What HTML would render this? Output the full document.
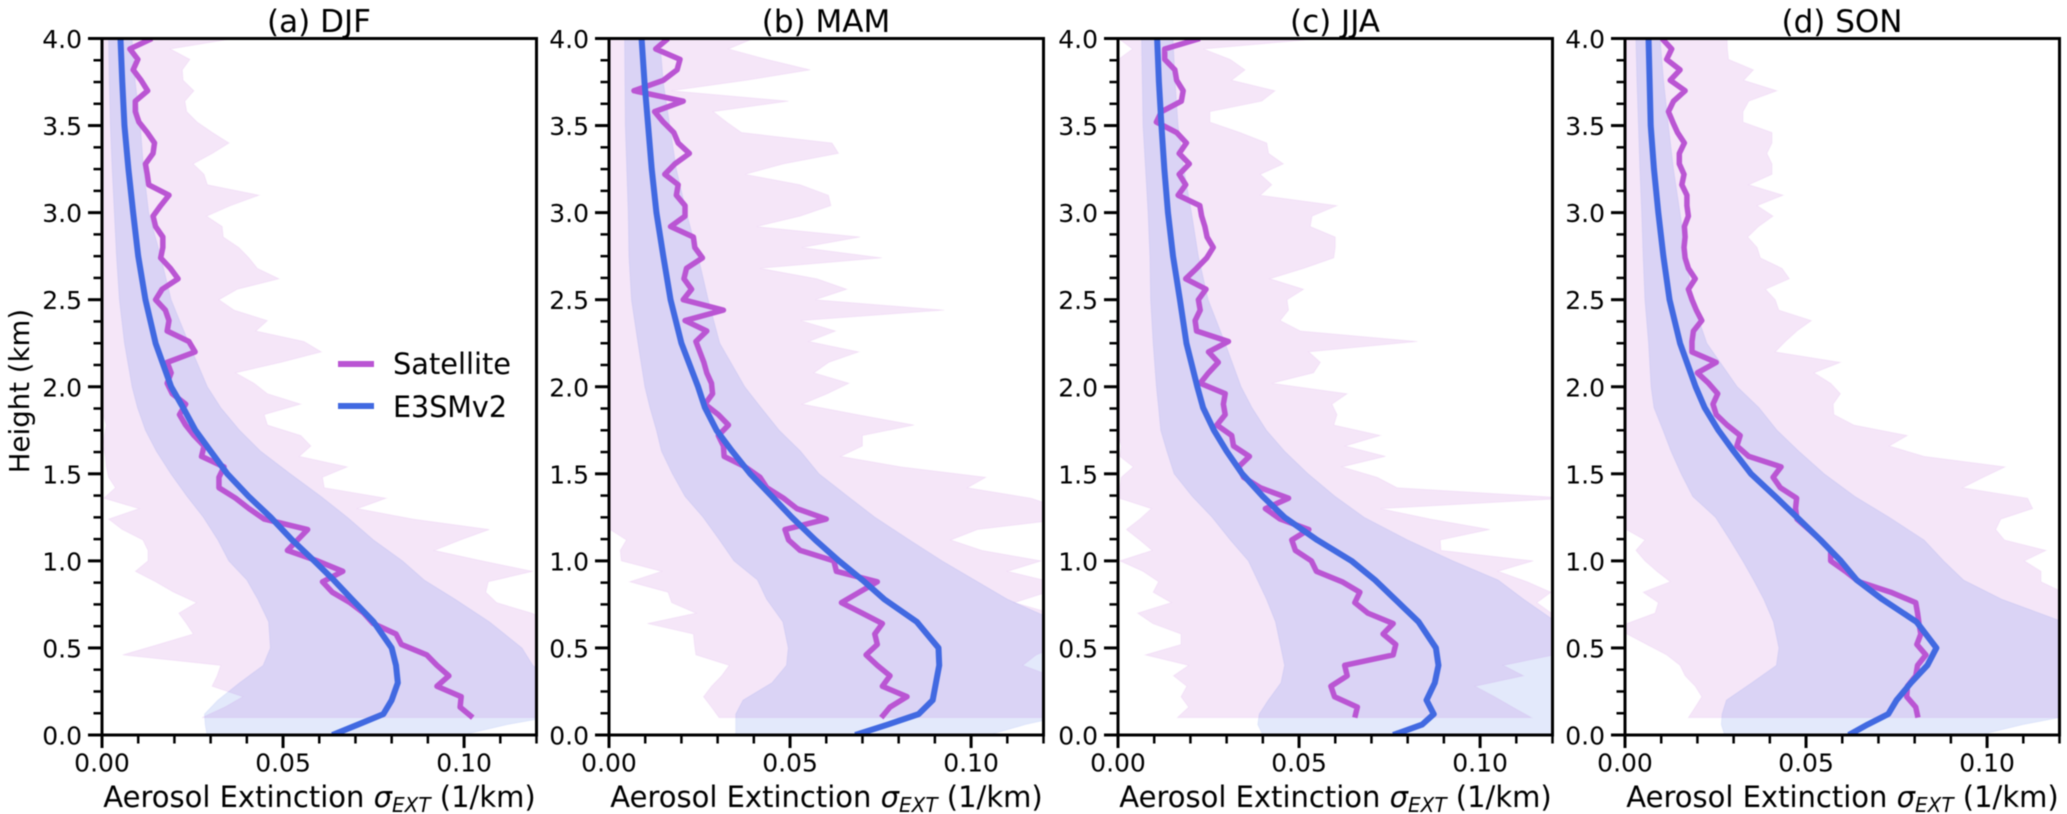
<!DOCTYPE html>
<html lang="en">
<head>
<meta charset="utf-8">
<title>Aerosol Extinction Profiles</title>
<style>
html,body{margin:0;padding:0;background:#fff;}
svg{display:block;filter:blur(0.5px);}
text{font-family:"DejaVu Sans","Liberation Sans",sans-serif;fill:#000;}
</style>
</head>
<body>
<svg id="figure" xmlns="http://www.w3.org/2000/svg" width="2067" height="814" viewBox="0 0 2067 814">
  <rect x="0" y="0" width="2067" height="814" fill="#fff"/>

  <g id="panel-a" transform="translate(102,38.5)"></g>
  <g id="panel-b" transform="translate(609,38.5)"></g>
  <g id="panel-c" transform="translate(1118,38.5)"></g>
  <g id="panel-d" transform="translate(1625,38.5)"></g>

  <text x="319" y="32" font-size="31" text-anchor="middle">(a) DJF</text>
  <text x="826" y="32" font-size="31" text-anchor="middle">(b) MAM</text>
  <text x="1335" y="32" font-size="31" text-anchor="middle">(c) JJA</text>
  <text x="1842" y="32" font-size="31" text-anchor="middle">(d) SON</text>

  <text transform="translate(29,391) rotate(-90)" font-size="27.6" text-anchor="middle">Height (km)</text>

  <text x="319.5" y="807" font-size="29" text-anchor="middle">Aerosol Extinction <tspan font-style="italic">σ</tspan><tspan font-style="italic" font-size="20" dy="5">EXT</tspan><tspan dy="-5"> (1/km)</tspan></text>
  <text x="826.5" y="807" font-size="29" text-anchor="middle">Aerosol Extinction <tspan font-style="italic">σ</tspan><tspan font-style="italic" font-size="20" dy="5">EXT</tspan><tspan dy="-5"> (1/km)</tspan></text>
  <text x="1335.5" y="807" font-size="29" text-anchor="middle">Aerosol Extinction <tspan font-style="italic">σ</tspan><tspan font-style="italic" font-size="20" dy="5">EXT</tspan><tspan dy="-5"> (1/km)</tspan></text>
  <text x="1842.5" y="807" font-size="29" text-anchor="middle">Aerosol Extinction <tspan font-style="italic">σ</tspan><tspan font-style="italic" font-size="20" dy="5">EXT</tspan><tspan dy="-5"> (1/km)</tspan></text>

  <g>
    <line x1="338" y1="364" x2="374" y2="364" stroke="#BA55D3" stroke-width="6"/>
    <text x="393" y="374" font-size="29" textLength="118" lengthAdjust="spacingAndGlyphs">Satellite</text>
    <line x1="338" y1="406" x2="374" y2="406" stroke="#4169E1" stroke-width="6"/>
    <text x="393" y="417" font-size="29" textLength="114" lengthAdjust="spacingAndGlyphs">E3SMv2</text>
  </g>
</svg>

<script>
// Extinction values are in units of 10^-3 km^-1; heights are in km.

const satHeights = [
4.00,3.94,3.88,3.82,3.76,3.70,3.64,3.58,3.52,3.46,
3.40,3.34,3.28,3.22,3.16,3.10,3.04,2.98,2.92,2.86,
2.80,2.74,2.68,2.62,2.56,2.50,2.44,2.38,2.32,2.26,
2.20,2.14,2.08,2.02,1.96,1.90,1.84,1.78,1.72,1.66,
1.60,1.54,1.48,1.42,1.36,1.30,1.24,1.18,1.12,1.06,
1.00,0.94,0.88,0.82,0.76,0.70,0.64,0.58,0.52,0.46,
0.40,0.34,0.28,0.22,0.16,0.10];

const modelHeights = [4,3.75,3.5,3.25,3,2.75,2.5,2.25,2,1.88,1.75,1.63,1.5,1.37,1.25,1.12,1,0.89,0.78,0.65,0.5,0.4,0.3,0.2,0.12,0.06,0];

// (a) DJF
const satMeanDJF = [
13.8,7.7,9.9,8.6,10.8,12.6,9.2,9.2,10.2,12.5,
14.5,14.1,12.0,12.5,12.9,18.5,16.2,14.1,14.8,16.8,
16.8,16.2,18.9,21.0,16.6,14.8,17.5,18.5,18.0,24.0,
25.7,18.0,19.1,18.0,19.4,23.1,21.4,23.1,25.4,28.2,
27.5,33.7,32.3,32.3,36.9,40.6,44.8,56.8,54.0,51.2,
59.5,66.5,60.9,63.6,68.5,72.3,74.9,81.2,82.7,89.7,
92.5,95.8,92.5,99.2,98.9,102.4];
const satUpperDJF = [
36.5,18.9,24.3,22.2,22.4,25.4,22.9,23.4,26.3,30.5,
35.1,30.5,25.2,28.2,29.1,43.4,35.5,28.9,33.2,33.5,
37.8,40.6,42.9,48.9,37.4,32.3,36.5,45.7,42.5,55.8,
60.6,49.4,36.9,42,45.7,54.9,44.8,45.7,54.9,57.7,
54.5,67.8,60.9,61.4,78.5,70.6,86,107,99,91.8,
105,119,106.7,106,109,118.7,125,130,130,130,
130,130,130,130,130,130];
const satLowerDJF = [
0.1,0.1,0.1,0.1,0.1,0.1,0.1,0.1,0.1,0.1,
0.1,0.1,0.1,0.1,0.1,0.1,0.1,0.1,0.1,0.1,
0.1,0.1,0.1,0.1,0.1,0.1,0.1,0.1,0.1,0.1,
0.1,0.1,0.1,0.1,0.1,0.1,0.3,1.2,0.6,0.3,
0.9,1.2,1.8,3.7,0.5,10.2,1.8,5.6,11.3,12.7,
12.7,9.2,14.8,19.8,26.1,21.2,23.3,25.2,15.5,5.7,
32.8,31.8,30.4,38.9,33.9,27.6];
const modelMeanDJF = [5.1,5.6,6.2,7.3,8.6,10,12,14.8,19.1,22.4,25.8,30,34.6,40.5,46.6,52.5,58.6,64,69,75,80,81.2,81.7,80,77.7,70.7,63.6];
const modelUpperDJF = [8.3,9.2,10.6,11.5,12.9,16.2,19.1,24,29.1,32.8,38,43.8,52,60.5,67.8,75,83,89,97.5,107,116,119,125,135,128,112,99.6];
const modelLowerDJF = [1.8,2,2.3,2.8,3.4,4,4.8,6.2,8.3,9.8,12,15,19,23.5,28,32,35,40,43,46,46.5,44.5,38,32,28.3,28.5,29];

// (b) MAM
const satMeanMAM = [
16.3,12.9,19.6,18.8,15,6.9,20.5,12.6,15,17.9,
19.1,22.2,18.2,15.4,19.1,18.6,21,21,17,23.3,
23.7,25.8,21.4,20.7,22.8,20.5,31.6,21,27,24,
25.1,26.2,27,28.3,28.6,26.5,30.2,33,30.2,31.6,
31.8,37.6,41.7,43.6,48.2,51.9,60,48.6,49.6,52.8,
62.1,62.8,74.1,69.1,64.2,69.9,75.5,73.4,74.1,71,
74.1,77.6,75.5,82.3,77.6,75.2];
const satUpperMAM = [
39.9,33,43.6,55.6,38,17.3,49.6,28.8,32.5,36.6,
61.6,63.4,48.2,37.6,52.8,60.6,61.3,52.8,40.8,69.4,
53.3,75.4,41.7,57.4,65.7,57,92.6,52.9,62.6,55.2,
69,60.7,56.6,66.3,60.3,53.4,68.6,84.3,70,70,
64,80.6,104.1,99,116.6,125,126,101.8,94.4,103,
119.4,110.1,122,121,112,122,130,130,125,118,
114.3,122,130,130,130,130];
const satLowerMAM = [
0.1,0.1,0.1,0.1,0.1,0.1,0.1,0.1,0.1,0.1,
0.1,0.1,0.1,0.1,0.1,0.1,0.1,0.1,0.1,0.1,
0.1,0.1,0.1,0.1,0.1,0.1,0.1,0.1,0.1,0.1,
0.1,0.1,0.1,0.1,0.1,0.1,0.1,0.1,0.1,0.1,
0.1,0.1,0.1,0.1,0.1,0.1,0.1,0.3,4.8,3.1,
3.4,14.5,5.7,16.3,17.3,24,10.6,23.3,23.6,24,
33.2,31.1,28.3,26.1,28.3,30.4];
const modelMeanMAM = [9,9.8,10.8,11.8,13.1,15,17,20,24.6,26.5,29.7,34,39,45,50.5,57,63.5,70,76,85,91,91.2,90.3,89.4,85.5,77,68];
const modelUpperMAM = [14,15,16.8,18.6,21.4,24.6,27.4,30.6,37.5,42,47,52.9,58,66,73.5,83,92,101,110,124,135,135,135,135,128,115,105];
const modelLowerMAM = [4.3,4.4,4.5,4.9,5.3,5.5,6.2,8,9.9,11.3,13.1,14.5,17.5,21,26,30.5,34.5,41,43.5,48,49.5,49,45,37,35,35,35];

// (c) JJA
const satMeanJJA = [
22.6,12.9,12.9,15.7,16.2,18,17.5,12,10.6,16.2,
18.9,16.9,19.7,16.9,18.7,16.6,22.6,23.1,24,24.6,
26.3,24.5,21.7,18.7,24.3,22.2,22.7,21.3,21.7,30.5,
25,27.7,25,22.7,29.6,29.1,29.6,27.3,31.4,31.9,
36.3,33.3,34.7,39.3,47.1,40.7,44.8,52.7,48,49,
53.4,54.8,61.9,66.8,65.4,69,76,73.2,76.7,76,
62.6,63.3,58.8,59.8,66.1,65.4];
const satUpperJJA = [
56.8,23.6,31,35.1,31.4,43.4,39.7,25.4,25.4,33.7,
41.1,41.6,45.7,39.3,42.5,39.3,60.5,53.6,53.1,60,
60,59.6,51.3,42,51.3,46.7,47.1,44.8,50.4,82.7,
52.7,55.9,54,42.5,63.3,59.1,60.5,59.6,72.5,62.8,
73.9,61.9,71.6,77.1,125,72.5,86.4,102.7,89,89.2,
114.7,105,113,119.6,115.7,119.7,122,125,122,120.5,
106.4,112,98.6,104,109,114.2];
const satLowerJJA = [
0.1,4,0.1,0.1,0.1,0.1,0.1,0.1,0.1,0.1,
0.1,0.1,0.1,0.1,0.1,0.1,0.1,0.1,0.1,0.1,
0.1,0.1,0.1,0.1,0.1,0.1,0.1,0.1,0.1,0.1,
0.1,0.1,0.1,0.1,0.1,0.1,0.1,0.1,0.1,0.9,
0.5,4.2,0.9,0.5,0.3,9.2,6,2.3,6,9.4,
0.5,6.9,11.2,9.7,14.7,5.4,9.6,17.4,17.4,7.5,
19.5,15.3,19,17.4,19.5,16.4];
const modelMeanJJA = [10.8,11.3,12,12.8,13.8,15.2,17.1,18.9,21.9,23.5,26.5,30,34.3,40,46,55,64.5,71,76.5,83,87.8,88.5,87.5,85.2,87.2,84,76];
const modelUpperJJA = [15.2,15.8,16.6,18.2,20.3,22.2,24.9,29.6,34,37,41,46,52.5,60,68,80,92.5,105,112,121,135,140,140,140,135,128,123];
const modelLowerJJA = [6.5,6.7,6.9,7.6,8.3,8.8,9,9.7,10.6,11.2,11.8,13.5,15.5,20.5,26,31,36,38.5,41,43.5,45,46,45,41.5,39,38.6,40];

// (d) SON
const satMeanSON = [
10.2,12.9,11.5,15.2,12.5,16.6,13.4,12,13.2,14.5,
16.4,15,15,16.3,15.7,17.1,17.1,17.5,16.4,16.6,
16.3,16.6,17.5,19.4,17.5,18.5,19.7,21.2,18.9,18.5,
18.5,25.2,20,23.1,25.6,24.3,25.2,28.2,31.8,30.9,
34.2,43.1,40.9,42.9,47.4,47.1,47.5,50.8,54,56.8,
56.8,60.9,64.6,73.4,80.3,80.8,81.2,81.7,80.6,83.1,
80.8,80.3,78,77.8,80.3,80.9];
const satUpperSON = [
28.2,28.3,28.6,35.5,32.8,42,34.2,32.6,32.6,40.6,
40.6,39.2,40.6,40.6,34.2,43.7,36.5,40.9,36.9,33.9,
36.5,37.4,43.4,45.4,38.8,41.5,42.5,51.5,47.5,44.3,
41.5,59.5,52.2,56.8,59.5,57.5,57.7,63.2,78,73,
82.6,105,99,93.2,111.2,112.6,103.8,102.4,104.8,116.3,
110.3,114.9,114.9,121,130,130,130,130,130,130,
130,130,130,130,130,130];
const satLowerSON = [
0.1,0.1,0.1,0.1,0.1,0.1,0.1,0.1,0.1,0.1,
0.1,0.1,0.1,0.1,0.1,0.1,0.1,0.1,0.1,0.1,
0.1,0.1,0.1,0.1,0.1,0.1,0.1,0.1,0.1,0.1,
0.1,0.1,0.1,0.1,0.1,0.1,0.1,0.1,0.1,0.1,
0.1,0.1,0.1,0.1,0.1,0.1,0.1,0.3,5.5,3,
5.5,8.8,12.5,5,9.2,8.3,0.5,0.5,6,11.5,
15.2,16.6,19.4,21.2,19.4,17.5];
const modelMeanSON = [6.5,6.8,7.1,8,9.2,10.6,12.3,15.2,19.5,22,25.8,30,34.8,41.5,47.5,54,59.6,64,71,80.5,86,83.5,79,75,72.7,67,61.8];
const modelUpperSON = [9.7,10.7,12,13.4,15.2,17,18.5,22.6,31,37,42,48,55,63.5,73,82.6,88,93.5,104,121,135,135,135,135,125,110,98];
const modelLowerSON = [3,3.3,3.7,4.1,4.6,5,5.5,6.5,7.2,8,10.5,12.7,15.5,18.7,25,29,32.5,35.5,38.3,41,42.5,41.8,35,28,26.8,26.6,27.5];

// Axis ticks
const xMajorTicks = [0,50,100];
const xMajorLabels = ['0.00','0.05','0.10'];
const xMinorTicks = [10,20,30,40,60,70,80,90,110,120];
const yMajorTicks = [0,0.5,1,1.5,2,2.5,3,3.5,4];
const yMajorLabels = ['0.0','0.5','1.0','1.5','2.0','2.5','3.0','3.5','4.0'];
const yMinorTicks = [0.125,0.25,0.375,0.625,0.75,0.875,1.125,1.25,1.375,1.625,1.75,1.875,2.125,2.25,2.375,2.625,2.75,2.875,3.125,3.25,3.375,3.625,3.75,3.875];

const seasons = ['djf','mam','jja','son'];
const panelIds = ['panel-a','panel-b','panel-c','panel-d'];
const satMeans = [satMeanDJF,satMeanMAM,satMeanJJA,satMeanSON];
const satUppers = [satUpperDJF,satUpperMAM,satUpperJJA,satUpperSON];
const satLowers = [satLowerDJF,satLowerMAM,satLowerJJA,satLowerSON];
const modelMeans = [modelMeanDJF,modelMeanMAM,modelMeanJJA,modelMeanSON];
const modelUppers = [modelUpperDJF,modelUpperMAM,modelUpperJJA,modelUpperSON];
const modelLowers = [modelLowerDJF,modelLowerMAM,modelLowerJJA,modelLowerSON];

const NS = 'http://www.w3.org/2000/svg';
const AXIS_W = 434.5;
const AXIS_H = 696.5;
const X_MAX = 120;
const Y_MAX = 4;
const SAT_COLOR = '#BA55D3';
const MODEL_COLOR = '#4169E1';

function xScale(v){ return v / X_MAX * AXIS_W; }
function yScale(h){ return AXIS_H - h / Y_MAX * AXIS_H; }

function make(tag, attrs, parent){
  const el = document.createElementNS(NS, tag);
  for (const k in attrs) el.setAttribute(k, attrs[k]);
  parent.appendChild(el);
  return el;
}
function linePoints(values, heights){
  return values.map(function(v,i){ return xScale(v).toFixed(2)+','+yScale(heights[i]).toFixed(2); }).join(' ');
}
function bandPoints(upper, lower, heights){
  const a = upper.map(function(v,i){ return xScale(v).toFixed(2)+','+yScale(heights[i]).toFixed(2); });
  const b = lower.map(function(v,i){ return xScale(v).toFixed(2)+','+yScale(heights[i]).toFixed(2); }).reverse();
  return a.concat(b).join(' ');
}

seasons.forEach(function(season, p){
  const panel = document.getElementById(panelIds[p]);

  const clip = make('clipPath', {id:'clip-'+season}, panel);
  make('rect', {x:0, y:0, width:AXIS_W, height:AXIS_H}, clip);

  const plot = make('g', {'clip-path':'url(#clip-'+season+')'}, panel);
  
  

  const satBand = make('polygon', {points:bandPoints(satUppers[p], satLowers[p], satHeights), fill:SAT_COLOR, 'fill-opacity':0.15, stroke:SAT_COLOR, 'stroke-opacity':0.08, 'stroke-width':1}, plot);
  
  

  const modelBand = make('polygon', {points:bandPoints(modelUppers[p], modelLowers[p], modelHeights), fill:MODEL_COLOR, 'fill-opacity':0.15, stroke:MODEL_COLOR, 'stroke-opacity':0.08, 'stroke-width':1}, plot);
  
  

  const satLine = make('polyline', {points:linePoints(satMeans[p], satHeights), fill:'none', stroke:SAT_COLOR, 'stroke-width':5.5, 'stroke-linejoin':'round', 'stroke-linecap':'butt'}, plot);
  
  

  const modelLine = make('polyline', {points:linePoints(modelMeans[p], modelHeights), fill:'none', stroke:MODEL_COLOR, 'stroke-width':6, 'stroke-linejoin':'round', 'stroke-linecap':'butt'}, plot);
  
  

  const frame = make('rect', {x:0, y:0, width:AXIS_W, height:AXIS_H, fill:'none', stroke:'#000', 'stroke-width':3}, panel);
  
  

  xMajorTicks.forEach(function(v,i){
    const t = make('line', {x1:xScale(v), x2:xScale(v), y1:AXIS_H, y2:AXIS_H+13, stroke:'#000', 'stroke-width':3}, panel);
    
    
    const l = make('text', {x:xScale(v), y:AXIS_H+36.5, 'font-size':25, 'text-anchor':'middle'}, panel);
    
    
    l.textContent = xMajorLabels[i];
  });
  xMinorTicks.forEach(function(v){
    const t = make('line', {x1:xScale(v), x2:xScale(v), y1:AXIS_H, y2:AXIS_H+8.5, stroke:'#000', 'stroke-width':2.5}, panel);
    
    
  });
  yMajorTicks.forEach(function(h,i){
    const t = make('line', {x1:-14, x2:0, y1:yScale(h), y2:yScale(h), stroke:'#000', 'stroke-width':3}, panel);
    
    
    const l = make('text', {x:-20, y:yScale(h)+9.5, 'font-size':25, 'text-anchor':'end'}, panel);
    
    
    l.textContent = yMajorLabels[i];
  });
  yMinorTicks.forEach(function(h){
    const t = make('line', {x1:-8.5, x2:0, y1:yScale(h), y2:yScale(h), stroke:'#000', 'stroke-width':2.5}, panel);
    
    
  });
});
</script>
</body>
</html>
